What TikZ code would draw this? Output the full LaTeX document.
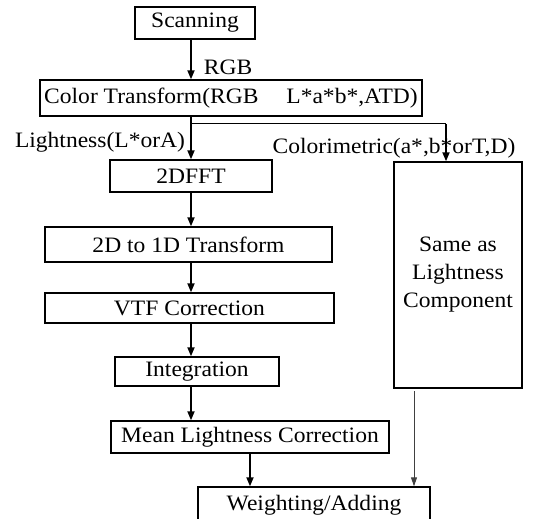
\documentclass[tikz,border=0pt]{standalone}
\usepackage{fontspec}
\setmainfont{Liberation Serif}[FakeStretch=1.07]
\usetikzlibrary{arrows.meta,positioning}

\begin{document}
\begin{tikzpicture}[x=1pt,y=-1pt,
    every node/.style={font=\fontsize{22}{28}\selectfont},
    box/.style={draw,line width=1.4pt,inner sep=0pt,align=center},
    arr/.style={-{Triangle[length=9pt,width=7pt]},line width=1.8pt},
    thinarr/.style={-{Triangle[length=9pt,width=6pt]},line width=0.9pt,black!75}]

  \useasboundingbox (0,0) rectangle (534,518);

  \node[box,minimum width=120pt,minimum height=32pt] (scan)  at (195,23)    {Scanning};
  \node[box,minimum width=382pt,minimum height=36pt] (ct)    at (231,98)    {Color Transform(RGB\quad\ L*a*b*,ATD)};

  \node[box,minimum width=162pt,minimum height=32pt] (fft)   at (191,176)   {2DFFT};
  \node[box,minimum width=287pt,minimum height=35pt] (tdo)   at (188.5,244.5) {2D to 1D Transform};
  \node[box,minimum width=289pt,minimum height=30pt] (vtf)   at (189.5,308) {VTF Correction};
  \node[box,minimum width=164pt,minimum height=29pt] (integ) at (197,371.5) {Integration};
  \node[box,minimum width=278pt,minimum height=32pt] (mlc)   at (250,437)   {Mean Lightness Correction};
  \node[box,minimum width=232pt,minimum height=36pt] (wa)    at (314,505)   {Weighting/Adding};

  \node[box,minimum width=128pt,minimum height=226pt] (same) at (458,275)
        {Same as\\Lightness\\Component};

  \node (rgb)  at (228,67)  {RGB};
  \node (lgt)  at (100,142) {Lightness(L*orA)};
  \node (clm)  at (394,148) {Colorimetric(a*,b*orT,D)};

  \coordinate (br) at (446,124);
  \coordinate (cs) at (414,391);

  \draw[arr] (scan.south -| fft) -- (ct.north -| fft);
  \draw[arr] (ct.south -| fft) -- (fft.north);
  \draw[line width=1pt] (br -| fft) -- (br);
  \draw[arr] (br) -- (br |- same.north);
  \draw[arr] (fft.south) -- (fft.south |- tdo.north);
  \draw[arr] (fft.south |- tdo.south) -- (fft.south |- vtf.north);
  \draw[arr] (fft.south |- vtf.south) -- (fft.south |- integ.north);
  \draw[arr] (fft.south |- integ.south) -- (fft.south |- mlc.north);
  \draw[arr] (mlc.south) -- (mlc.south |- wa.north);
  \draw[thinarr] (cs) -- (cs |- wa.north);
\end{tikzpicture}
\end{document}
